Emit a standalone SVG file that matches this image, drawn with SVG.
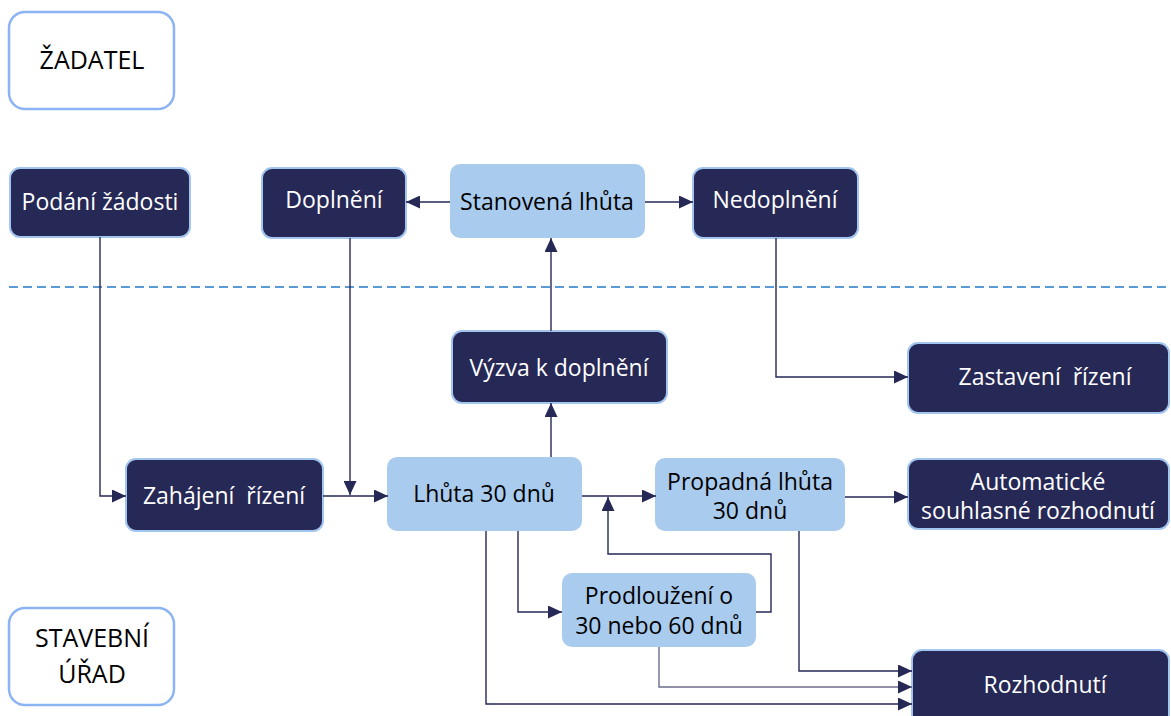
<svg xmlns="http://www.w3.org/2000/svg" width="1171" height="716" viewBox="0 0 1171 716">
<style>
text{font-family:"Open Sans","Noto Sans","Liberation Sans",sans-serif;font-size:23px;text-anchor:middle;white-space:pre}
.dk rect{fill:#262856;stroke:#a3c6f0;stroke-width:2}
.dk text{fill:#ffffff}
.lt rect{fill:#a9cbee;stroke:none}
.lt text{fill:#000000}
.side rect{fill:#ffffff;stroke:#8cb4f4;stroke-width:2.5}
.side text{fill:#000000;font-size:25px}
.c path{fill:none;stroke:#262856;stroke-width:1.4}
.c path.g{stroke:#6b6c8c}
</style>
<defs>
<marker id="ah" markerUnits="userSpaceOnUse" markerWidth="15" markerHeight="13" refX="14" refY="6.5" orient="auto">
<path d="M0,0 L14,6.5 L0,13 z" fill="#262856"/>
</marker>
</defs>
<g id="zadatel" class="side"><rect x="9" y="12" width="165" height="97" rx="16"/><text x="92" y="69">ŽADATEL</text></g>
<g id="stavebni" class="side"><rect x="9" y="608" width="165" height="97" rx="16"/><text x="92" y="647">STAVEBNÍ</text><text x="92" y="683">ÚŘAD</text></g>
<line id="divider" x1="9" y1="287" x2="1171" y2="287" stroke="#5b9bd5" stroke-width="2" stroke-dasharray="9,5"/>
<g id="podani" class="dk"><rect x="10" y="168" width="180" height="69" rx="10"/><text x="100" y="210">Podání žádosti</text></g>
<g id="doplneni" class="dk"><rect x="262" y="168" width="144" height="70" rx="10"/><text x="334" y="208">Doplnění</text></g>
<g id="stanovena" class="lt"><rect x="450" y="164" width="195" height="74" rx="10"/><text x="547" y="210">Stanovená lhůta</text></g>
<g id="nedoplneni" class="dk"><rect x="693" y="168" width="165" height="70" rx="10"/><text x="775" y="208">Nedoplnění</text></g>
<g id="vyzva" class="dk"><rect x="452" y="331" width="215" height="72" rx="10"/><text x="559" y="376">Výzva k doplnění</text></g>
<g id="zastaveni" class="dk"><rect x="908" y="343" width="261" height="70" rx="10"/><text x="1045" y="385">Zastavení  řízení</text></g>
<g id="zahajeni" class="dk"><rect x="126" y="459" width="197" height="72" rx="10"/><text x="224" y="504">Zahájení  řízení</text></g>
<g id="lhuta" class="lt"><rect x="387" y="457" width="195" height="74" rx="10"/><text x="484" y="502">Lhůta 30 dnů</text></g>
<g id="propadna" class="lt"><rect x="655" y="458" width="190" height="73" rx="10"/><text x="750" y="490">Propadná lhůta</text><text x="750" y="519">30 dnů</text></g>
<g id="automaticke" class="dk"><rect x="908" y="459" width="261" height="70" rx="10"/><text x="1038" y="490">Automatické</text><text x="1038" y="519">souhlasné rozhodnutí</text></g>
<g id="prodlouzeni" class="lt"><rect x="562" y="573" width="194" height="74" rx="10"/><text x="659" y="604">Prodloužení o</text><text x="659" y="634">30 nebo 60 dnů</text></g>
<g id="rozhodnuti" class="dk"><rect x="912" y="650" width="257" height="75" rx="10"/><text x="1045" y="693">Rozhodnutí</text></g>
<g id="connectors" class="c">
<path d="M100,237 V496 H126" marker-end="url(#ah)"/>
<path d="M350,238 V495" marker-end="url(#ah)"/>
<path d="M323,496 H388" marker-end="url(#ah)"/>
<path d="M551,457 V403" marker-end="url(#ah)"/>
<path d="M551,331 V238" marker-end="url(#ah)"/>
<path d="M450,202 H406" marker-end="url(#ah)"/>
<path d="M645,202 H693" marker-end="url(#ah)"/>
<path d="M776,238 V377 H908" marker-end="url(#ah)"/>
<path d="M582,496 H656" marker-end="url(#ah)"/>
<path d="M756,612 H771 V554 H608 V497" marker-end="url(#ah)"/>
<path d="M518,531 V612 H562" marker-end="url(#ah)"/>
<path d="M486,531 V704 H912" marker-end="url(#ah)"/>
<path class="g" d="M659,647 V687 H912" marker-end="url(#ah)"/>
<path d="M799,531 V671 H912" marker-end="url(#ah)"/>
<path d="M845,497 H908" marker-end="url(#ah)"/>
</g>
</svg>
